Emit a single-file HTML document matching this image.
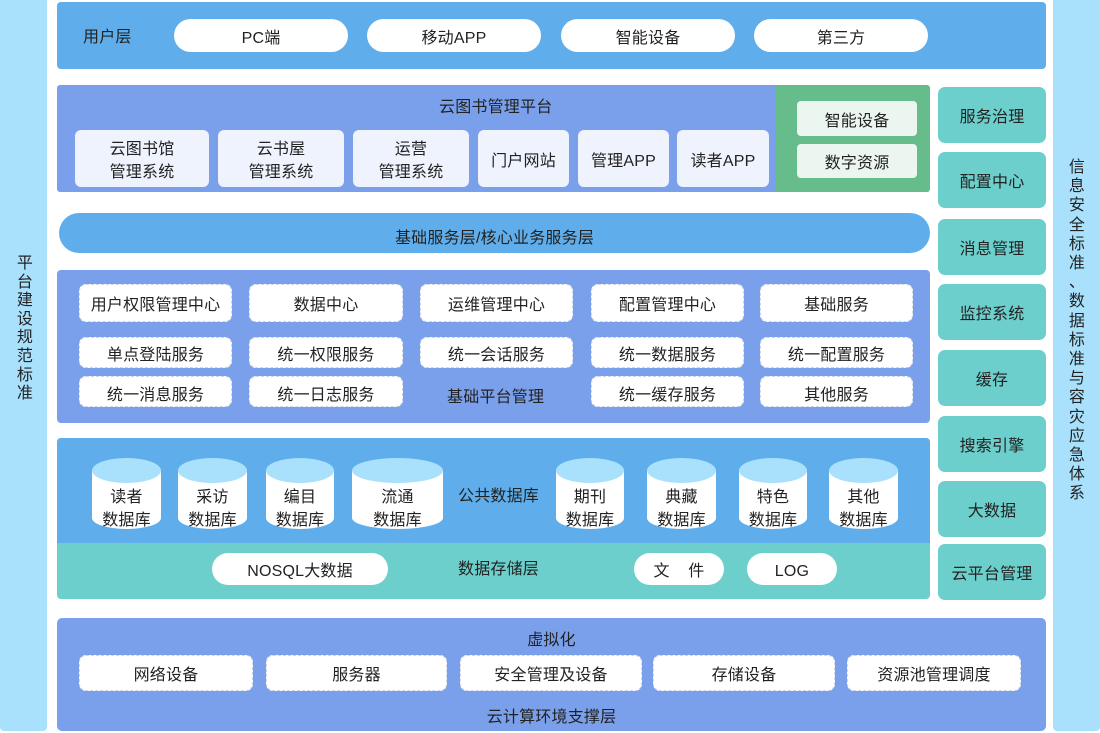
<!DOCTYPE html>
<html>
<head>
<meta charset="utf-8">
<style>
  html,body{margin:0;padding:0;}
  body{width:1100px;height:733px;position:relative;overflow:hidden;background:#fff;
    font-family:"Liberation Sans","Noto Sans CJK SC",sans-serif;color:#222;font-size:16px;letter-spacing:0.2px;}
  .a{position:absolute;box-sizing:border-box;}
  .c{display:flex;align-items:center;justify-content:center;text-align:center;line-height:23px;padding-top:5px;}
  .col{background:#a9e0fc;border-radius:4px;}
  .vt{position:absolute;width:20px;text-align:center;font-size:16px;}
  .pill{background:#fff;border-radius:17px;}
  .pbox{background:#eef3fd;border-radius:6px;}
  .gbox{background:#ecf6f0;border-radius:4px;}
  .sbox{background:#fff;border:1px dashed #cdd6e6;border-radius:7px;}
  .tbox{background:#6ccfcc;border-radius:7px;}
  .lbl{position:absolute;line-height:20px;white-space:nowrap;}
  .r3{padding-top:7px;}
</style>
</head>
<body>

<!-- left column -->
<div class="a col" style="left:0;top:-4px;width:47px;height:735px;"></div>
<div class="vt" style="left:15px;top:255px;line-height:18.6px;">平<br>台<br>建<br>设<br>规<br>范<br>标<br>准</div>

<!-- right column -->
<div class="a col" style="left:1053px;top:-4px;width:47px;height:735px;"></div>
<div class="vt" style="left:1067px;top:158px;line-height:19.2px;">信<br>息<br>安<br>全<br>标<br>准<br>、<br>数<br>据<br>标<br>准<br>与<br>容<br>灾<br>应<br>急<br>体<br>系</div>

<!-- user layer -->
<div class="a" style="left:57px;top:2px;width:989px;height:67px;background:#5faeeb;border-radius:4px;"></div>
<div class="lbl" style="left:83px;top:28px;">用户层</div>
<div class="a c pill" style="left:174px;top:19px;width:174px;height:33px;">PC端</div>
<div class="a c pill" style="left:367px;top:19px;width:174px;height:33px;">移动APP</div>
<div class="a c pill" style="left:561px;top:19px;width:174px;height:33px;">智能设备</div>
<div class="a c pill" style="left:754px;top:19px;width:174px;height:33px;">第三方</div>

<!-- platform -->
<div class="a" style="left:57px;top:85px;width:719px;height:107px;background:#7ba0eb;border-radius:3px 0 0 3px;"></div>
<div class="a" style="left:776px;top:85px;width:154px;height:107px;background:#66bd8b;border-radius:0 3px 3px 0;"></div>
<div class="lbl" style="left:439px;top:98px;">云图书管理平台</div>
<div class="a c pbox" style="left:75px;top:130px;width:134px;height:57px;">云图书馆<br>管理系统</div>
<div class="a c pbox" style="left:218px;top:130px;width:126px;height:57px;">云书屋<br>管理系统</div>
<div class="a c pbox" style="left:353px;top:130px;width:116px;height:57px;">运营<br>管理系统</div>
<div class="a c pbox" style="left:478px;top:130px;width:91px;height:57px;">门户网站</div>
<div class="a c pbox" style="left:578px;top:130px;width:91px;height:57px;">管理APP</div>
<div class="a c pbox" style="left:677px;top:130px;width:92px;height:57px;">读者APP</div>
<div class="a c gbox" style="left:797px;top:101px;width:120px;height:35px;">智能设备</div>
<div class="a c gbox" style="left:797px;top:144px;width:120px;height:34px;">数字资源</div>

<!-- base services bar -->
<div class="a c" style="left:59px;top:213px;width:871px;height:40px;background:#5faeeb;border-radius:20px;padding-top:11px;">基础服务层/核心业务服务层</div>

<!-- basic platform management -->
<div class="a" style="left:57px;top:270px;width:873px;height:153px;background:#7ba0eb;border-radius:4px;"></div>
<div class="a c sbox" style="left:79px;top:284px;width:153px;height:38px;">用户权限管理中心</div>
<div class="a c sbox" style="left:249px;top:284px;width:154px;height:38px;">数据中心</div>
<div class="a c sbox" style="left:420px;top:284px;width:153px;height:38px;">运维管理中心</div>
<div class="a c sbox" style="left:591px;top:284px;width:153px;height:38px;">配置管理中心</div>
<div class="a c sbox" style="left:760px;top:284px;width:153px;height:38px;">基础服务</div>

<div class="a c sbox" style="left:79px;top:337px;width:153px;height:31px;padding-top:6px;">单点登陆服务</div>
<div class="a c sbox" style="left:249px;top:337px;width:154px;height:31px;padding-top:6px;">统一权限服务</div>
<div class="a c sbox" style="left:420px;top:337px;width:153px;height:31px;padding-top:6px;">统一会话服务</div>
<div class="a c sbox" style="left:591px;top:337px;width:153px;height:31px;padding-top:6px;">统一数据服务</div>
<div class="a c sbox" style="left:760px;top:337px;width:153px;height:31px;padding-top:6px;">统一配置服务</div>

<div class="a c sbox r3" style="left:79px;top:376px;width:153px;height:31px;">统一消息服务</div>
<div class="a c sbox r3" style="left:249px;top:376px;width:154px;height:31px;">统一日志服务</div>
<div class="lbl" style="left:447px;top:388px;">基础平台管理</div>
<div class="a c sbox r3" style="left:591px;top:376px;width:153px;height:31px;">统一缓存服务</div>
<div class="a c sbox r3" style="left:760px;top:376px;width:153px;height:31px;">其他服务</div>

<!-- database section -->
<div class="a" style="left:57px;top:438px;width:873px;height:161px;background:#6ccfcc;border-radius:4px;"></div>
<div class="a" style="left:57px;top:438px;width:873px;height:105px;background:#5faeeb;border-radius:4px 4px 0 0;"></div>

<svg class="a" style="left:0;top:0;" width="1100" height="733" viewBox="0 0 1100 733">
  <g>
    <path d="M92 470.5 L92 518 A34.5 11 0 0 0 161 518 L161 470.5 Z" fill="#fff"/>
    <ellipse cx="126.5" cy="470.5" rx="34.5" ry="12.5" fill="#a9e0fc"/>
    <path d="M178 470.5 L178 518 A34.5 11 0 0 0 247 518 L247 470.5 Z" fill="#fff"/>
    <ellipse cx="212.5" cy="470.5" rx="34.5" ry="12.5" fill="#a9e0fc"/>
    <path d="M266 470.5 L266 518 A34 11 0 0 0 334 518 L334 470.5 Z" fill="#fff"/>
    <ellipse cx="300" cy="470.5" rx="34" ry="12.5" fill="#a9e0fc"/>
    <path d="M352 470.5 L352 518 A45.5 11 0 0 0 443 518 L443 470.5 Z" fill="#fff"/>
    <ellipse cx="397.5" cy="470.5" rx="45.5" ry="12.5" fill="#a9e0fc"/>
    <path d="M556 470.5 L556 518 A34 11 0 0 0 624 518 L624 470.5 Z" fill="#fff"/>
    <ellipse cx="590" cy="470.5" rx="34" ry="12.5" fill="#a9e0fc"/>
    <path d="M647 470.5 L647 518 A34.5 11 0 0 0 716 518 L716 470.5 Z" fill="#fff"/>
    <ellipse cx="681.5" cy="470.5" rx="34.5" ry="12.5" fill="#a9e0fc"/>
    <path d="M739 470.5 L739 518 A34 11 0 0 0 807 518 L807 470.5 Z" fill="#fff"/>
    <ellipse cx="773" cy="470.5" rx="34" ry="12.5" fill="#a9e0fc"/>
    <path d="M829 470.5 L829 518 A34.5 11 0 0 0 898 518 L898 470.5 Z" fill="#fff"/>
    <ellipse cx="863.5" cy="470.5" rx="34.5" ry="12.5" fill="#a9e0fc"/>
  </g>
</svg>

<div class="a c" style="left:82px;top:483px;width:89px;height:46px;padding-top:6px;">读者<br>数据库</div>
<div class="a c" style="left:168px;top:483px;width:89px;height:46px;padding-top:6px;">采访<br>数据库</div>
<div class="a c" style="left:255px;top:483px;width:90px;height:46px;padding-top:6px;">编目<br>数据库</div>
<div class="a c" style="left:352px;top:483px;width:91px;height:46px;padding-top:6px;">流通<br>数据库</div>
<div class="lbl" style="left:458px;top:487px;">公共数据库</div>
<div class="a c" style="left:545px;top:483px;width:90px;height:46px;padding-top:6px;">期刊<br>数据库</div>
<div class="a c" style="left:637px;top:483px;width:89px;height:46px;padding-top:6px;">典藏<br>数据库</div>
<div class="a c" style="left:728px;top:483px;width:90px;height:46px;padding-top:6px;">特色<br>数据库</div>
<div class="a c" style="left:819px;top:483px;width:89px;height:46px;padding-top:6px;">其他<br>数据库</div>

<div class="a c pill" style="left:212px;top:553px;width:176px;height:32px;border-radius:16px;">NOSQL大数据</div>
<div class="lbl" style="left:458px;top:560px;">数据存储层</div>
<div class="a c pill" style="left:634px;top:553px;width:90px;height:32px;border-radius:16px;">文&nbsp;&nbsp;&nbsp;&nbsp;件</div>
<div class="a c pill" style="left:747px;top:553px;width:90px;height:32px;border-radius:16px;">LOG</div>

<!-- right teal boxes -->
<div class="a c tbox" style="left:938px;top:87px;width:108px;height:56px;">服务治理</div>
<div class="a c tbox" style="left:938px;top:152px;width:108px;height:56px;">配置中心</div>
<div class="a c tbox" style="left:938px;top:219px;width:108px;height:56px;">消息管理</div>
<div class="a c tbox" style="left:938px;top:284px;width:108px;height:56px;">监控系统</div>
<div class="a c tbox" style="left:938px;top:350px;width:108px;height:56px;">缓存</div>
<div class="a c tbox" style="left:938px;top:416px;width:108px;height:56px;">搜索引擎</div>
<div class="a c tbox" style="left:938px;top:481px;width:108px;height:56px;">大数据</div>
<div class="a c tbox" style="left:938px;top:544px;width:108px;height:56px;">云平台管理</div>

<!-- bottom cloud layer -->
<div class="a" style="left:57px;top:618px;width:989px;height:113px;background:#7ba0eb;border-radius:5px;"></div>
<div class="lbl" style="left:0;width:1103px;text-align:center;top:631px;">虚拟化</div>
<div class="a c sbox" style="left:79px;top:655px;width:174px;height:36px;padding-top:4px;">网络设备</div>
<div class="a c sbox" style="left:266px;top:655px;width:181px;height:36px;padding-top:4px;">服务器</div>
<div class="a c sbox" style="left:460px;top:655px;width:182px;height:36px;padding-top:4px;">安全管理及设备</div>
<div class="a c sbox" style="left:653px;top:655px;width:182px;height:36px;padding-top:4px;">存储设备</div>
<div class="a c sbox" style="left:847px;top:655px;width:174px;height:36px;padding-top:4px;">资源池管理调度</div>
<div class="lbl" style="left:0;width:1103px;text-align:center;top:708px;">云计算环境支撑层</div>

</body>
</html>
